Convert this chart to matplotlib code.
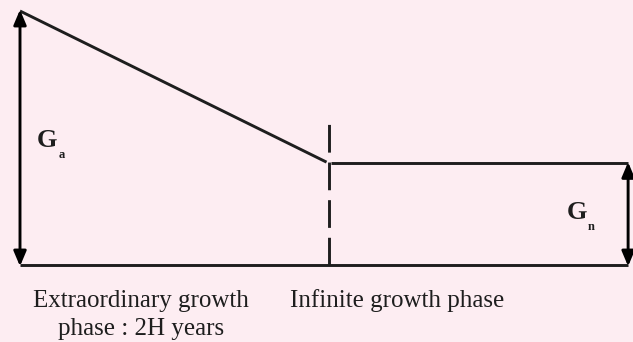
import matplotlib
matplotlib.use('Agg')
import matplotlib.pyplot as plt

# two-stage growth model: phase boundaries (in units of 2H) and growth rates
phase_x = [0.0, 1.0, 1.968]
growth_rate = [1.0, 0.40, 0.40]
dash_top = 0.56
phase_labels = ['Extraordinary growth\nphase : 2H years', 'Infinite growth phase']
rate_labels = [('G', 'a'), ('G', 'n')]

bg = '#fdedf2'
ink = '#1e1e1e'

fig = plt.figure(figsize=(6.33, 3.42), dpi=100, facecolor=bg)
ax = fig.add_axes([0, 0, 1, 1], facecolor=bg)
ax.set_xlim(-20 / 309, 613 / 309)
ax.set_ylim(-77 / 254, 265 / 254)
ax.axis('off')

lw = 2.1
x0, x1, x2 = phase_x
ga, gn, _ = growth_rate

# declining growth in the first phase, then flat
ax.plot([x0, x1 - 0.008], [ga, gn + 0.005], color=ink, lw=lw, solid_capstyle='butt')
ax.plot([x1 + 0.008, x2], [gn, gn], color=ink, lw=lw, solid_capstyle='butt')
# base line
ax.plot([x0, x2], [0, 0], color=ink, lw=lw, solid_capstyle='butt')
# phase boundary
ax.plot([x1, x1], [0, dash_top], color=ink, lw=lw, dashes=(9.5, 3.4))

arrow = dict(arrowstyle='<|-|>,head_length=0.9,head_width=0.38', color='black',
             lw=lw, shrinkA=0, shrinkB=0)
ax.annotate('', xy=(x0, ga + 0.005), xytext=(x0, -0.005), arrowprops=arrow)
ax.annotate('', xy=(x2, gn + 0.005), xytext=(x2, -0.005), arrowprops=arrow)

serif = ['Liberation Serif', 'DejaVu Serif']
# rate labels
ax.text(0.055, 0.49, rate_labels[0][0], fontsize=19, fontweight='bold', family=serif,
        color=ink, ha='left', va='center')
ax.text(0.126, 0.435, rate_labels[0][1], fontsize=9, fontweight='bold', family=serif,
        color=ink, ha='left', va='center')
ax.text(1.77, 0.205, rate_labels[1][0], fontsize=19, fontweight='bold', family=serif,
        color=ink, ha='left', va='center')
ax.text(1.838, 0.148, rate_labels[1][1], fontsize=9, fontweight='bold', family=serif,
        color=ink, ha='left', va='center')

# phase labels
ax.text(0.392, -0.197, phase_labels[0], fontsize=18, family=serif, color=ink,
        ha='center', va='center', linespacing=1.4)
ax.text(1.22, -0.138, phase_labels[1], fontsize=18, family=serif, color=ink,
        ha='center', va='center')

fig.savefig('out.png', dpi=100, facecolor=bg)
